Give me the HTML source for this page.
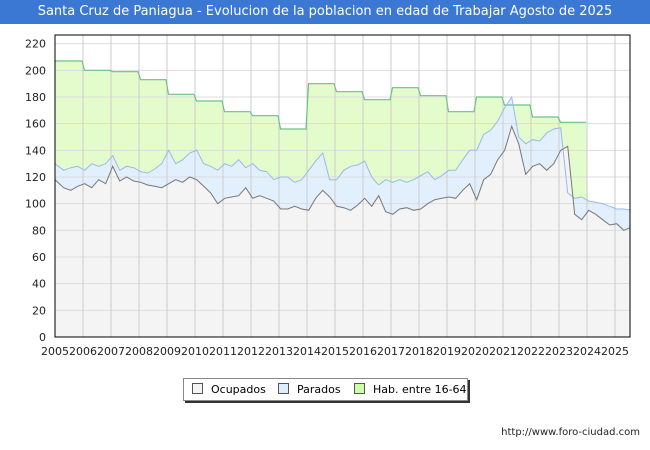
<!DOCTYPE html>
<html><head><meta charset="utf-8"><style>
body{margin:0;width:650px;height:450px;background:#fff;font-family:"DejaVu Sans","Liberation Sans",sans-serif;position:relative;overflow:hidden}
#title{position:absolute;left:0;top:0;width:650px;height:24px;background:#3a78d4;color:#fff;font-size:13px;line-height:24px;text-align:center}
#legend{position:absolute;left:183px;top:378px;width:283px;height:21px;border:1px solid #888;box-shadow:2px 2px 0 #333;background:#fff;font-size:11px}
.li{position:absolute;top:4px}
.sw{display:inline-block;width:9px;height:9px;border:1px solid #555;vertical-align:-1px;margin-right:8px}
#url{position:absolute;right:10px;top:427px;font-size:10px;color:#222}
</style></head><body>
<div id="title">Santa Cruz de Paniagua - Evolucion de la poblacion en edad de Trabajar Agosto de 2025</div>
<svg id="chart" width="650" height="450" style="position:absolute;left:0;top:0"></svg>
<div id="legend">
<span class="li" style="left:8px"><span class="sw" style="background:#f4f4f4"></span>Ocupados</span>
<span class="li" style="left:94px"><span class="sw" style="background:#ddeeff"></span>Parados</span>
<span class="li" style="left:170px"><span class="sw" style="background:#ccffaa"></span>Hab. entre 16-64</span>
</div>
<div id="url">http://www.foro-ciudad.com</div>
<script>
const years=[2005,2006,2007,2008,2009,2010,2011,2012,2013,2014,2015,2016,2017,2018,2019,2020,2021,2022,2023,2024,2025];
const hab=[207,200,199,193,182,177,169,166,156,190,184,178,187,181,169,180,174,165,161,null,null];
const ocupados=[118,112,110,113,115,112,118,115,128,117,120,117,116,114,113,112,115,118,116,120,118,113,108,100,104,105,106,112,104,106,104,102,96,96,98,96,95,104,110,105,98,97,95,99,104,98,106,94,92,96,97,95,96,100,103,104,105,104,110,115,103,118,122,133,140,158,145,122,128,130,125,130,140,143,92,88,95,92,88,84,85,80,82];
const parados=[130,125,127,128,125,130,128,130,136,125,128,127,124,123,126,130,140,130,133,138,140,130,128,125,130,128,133,127,130,125,124,118,120,120,116,118,125,132,138,118,118,125,128,129,132,120,114,118,116,118,116,118,121,124,118,121,125,125,133,140,140,152,155,162,172,180,150,145,148,147,153,156,157,108,104,105,102,101,100,98,96,96,95];
const yTicks=[0,20,40,60,80,100,120,140,160,180,200,220];
const L=55,R=630,T=35,B=337;
const X=t=>L+(t-2005)*28.0;
const Y=v=>B-v*(B-T)/226.5;
const svg=document.getElementById('chart');const NS='http://www.w3.org/2000/svg';
function mk(tag,a,name){const e=document.createElementNS(NS,tag);for(const k in a)e.setAttribute(k,a[k]);


svg.appendChild(e);return e;}
const tq=i=>2005+i*0.25+0.06;
const tEnd=X(2025.54);
let hp=[];for(let i=0;i<hab.length;i++){if(hab[i]==null)continue;const x0=X(years[i])+(i?1.5:0),x1=X(years[i]+1)-1;hp.push([x0,Y(hab[i])],[x1,Y(hab[i])]);}
const lastHabX=hp[hp.length-1][0];
const pp=parados.map((v,i)=>[Math.min(X(tq(i)),tEnd),Y(v)]);pp[0][0]=L;pp[pp.length-1][0]=tEnd;
const op=ocupados.map((v,i)=>[Math.min(X(tq(i)),tEnd),Y(v)]);op[0][0]=L;op[op.length-1][0]=tEnd;
const s=a=>a.map(p=>p[0].toFixed(1)+','+p[1].toFixed(1)).join(' ');
const pAfter=pp.filter(p=>p[0]>lastHabX+2);
mk('polygon',{points:s(hp)+' '+(lastHabX+2)+','+Y(105)+' '+s(pAfter)+' '+tEnd+','+B+' '+L+','+B,fill:'#e4fccc'},'hab-area');
mk('polygon',{points:s(pp)+' '+tEnd+','+B+' '+L+','+B,fill:'#e2f0fe'},'parados-area');
mk('polygon',{points:s(op)+' '+tEnd+','+B+' '+L+','+B,fill:'#f4f4f4'},'ocupados-area');
yTicks.forEach(v=>{mk('line',{x1:L,x2:R,y1:Y(v),y2:Y(v),stroke:'#ddd','stroke-width':1},'y-grid');
const t=mk('text',{x:46,y:Y(v)+4,'text-anchor':'end','font-size':11,fill:'#222'},'y-tick-label');t.textContent=v;});
years.forEach(y=>{mk('line',{x1:X(y),x2:X(y),y1:T,y2:B,stroke:'#ccc','stroke-width':1},'x-grid');
const t=mk('text',{x:X(y),y:355,'text-anchor':'middle','font-size':11,fill:'#222'},'x-tick-label');t.textContent=y;});
mk('polyline',{points:s(hp),fill:'none',stroke:'#6fbf8a','stroke-width':1.2},'hab-line');
mk('polyline',{points:s(pp),fill:'none',stroke:'#99b8ee','stroke-width':1},'parados-line');
mk('polyline',{points:s(op),fill:'none',stroke:'#777','stroke-width':1},'ocupados-line');
mk('rect',{x:L,y:T,width:R-L,height:B-T,fill:'none',stroke:'#000','stroke-width':1},'plot-border');
</script>
</body></html>
